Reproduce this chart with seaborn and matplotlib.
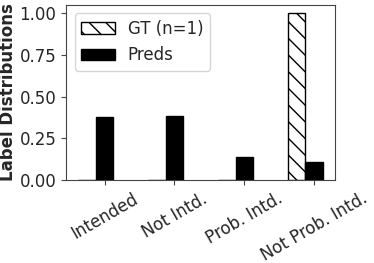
"""
plot.py

Label distributions: ground truth vs predictions.
"""

import numpy as np
import pandas as pd
import matplotlib
matplotlib.use('Agg')
import matplotlib.pyplot as plt
import seaborn as sns

#
#  Data
#

categories = ['Intended', 'Not Intd.', 'Prob. Intd.', 'Not Prob. Intd.']
gt_vals = [0.0, 0.0, 0.0, 1.0]
pred_vals = [0.38, 0.381, 0.137, 0.11]

width = 0.25
pos = np.arange(len(categories))

gt = pd.DataFrame({'x': pos - width, 'y': gt_vals})
pr = pd.DataFrame({'x': pos.astype(float), 'y': pred_vals})

#
#  Draw the plot
#

sns.set_style('ticks')
plt.rcParams['font.family'] = ['DejaVu Sans']
plt.rcParams['hatch.linewidth'] = 1.0

fig, ax = plt.subplots(figsize=(3.74, 2.63), dpi=100)

sns.barplot(data=gt, x='x', y='y', native_scale=True, width=width,
            color='white', saturation=1, edgecolor='black', linewidth=1,
            hatch='\\\\', label='GT (n=1)', ax=ax)

sns.barplot(data=pr, x='x', y='y', native_scale=True, width=width,
            color='black', saturation=1, edgecolor='black', linewidth=1,
            label='Preds', ax=ax)

ax.set_xlim(-0.55, 3.3)
ax.set_ylim(0, 1.05)
ax.set_xticks(pos)
ax.set_xticklabels(categories, rotation=30, fontsize=12)
ax.set_yticks([0, 0.25, 0.5, 0.75, 1.0])
ax.set_yticklabels(['0.00', '0.25', '0.50', '0.75', '1.00'], fontsize=12)
ax.tick_params(length=3.5, width=0.8, pad=3.5, color='#444444')
ax.set_xlabel('')
ax.set_ylabel('Label Distributions', fontsize=12, fontweight='bold')
ax.yaxis.set_label_coords(-0.182, 0.5)

for s in ax.spines.values():
    s.set_visible(True)
    s.set_color('#444444')

ax.legend(loc='upper left', fontsize=12)

fig.subplots_adjust(left=0.177, right=0.896, top=0.981, bottom=0.316)
fig.savefig('out.png', dpi=100)
